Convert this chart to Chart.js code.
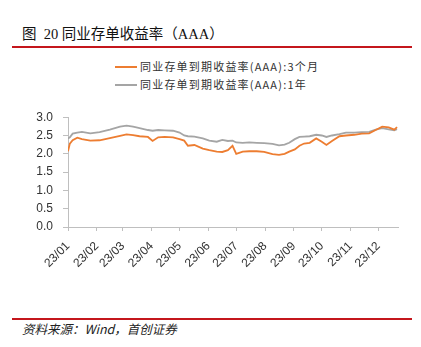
<!DOCTYPE html>
<html>
<head>
<meta charset="utf-8">
<script src="https://cdn.jsdelivr.net/npm/chart.js@4/dist/chart.umd.min.js"></script>
<style>
  body { margin: 0; background: #fff; }
  #wrap { position: relative; width: 421px; height: 347px; overflow: hidden; font-family: "Noto Sans CJK SC", "Liberation Sans", sans-serif; color: #222; }
  #title { position: absolute; left: 22px; top: 26px; font-family: "Liberation Serif", "Noto Sans CJK SC", serif; font-size: 14.5px; line-height: 16px; color: #111; }
  .rule { position: absolute; left: 12px; width: 400px; height: 2px; background: #c4161c; }
  .leg { position: absolute; left: 115px; font-size: 11px; line-height: 12px; letter-spacing: 1.2px; color: #333; white-space: nowrap; }
  .leg i { display: inline-block; width: 22px; height: 2px; vertical-align: middle; margin-right: 3px; position: relative; top: -1px; }
  #src { position: absolute; left: 22px; top: 322px; font-size: 12.5px; line-height: 14px; font-style: italic; color: #222; }
  #chart { position: absolute; left: 0; top: 100px; }
</style>
</head>
<body>
<div id="wrap">
  <div id="title">图&nbsp; 20 同业存单收益率（AAA）</div>
  <div class="rule" style="top:46px"></div>
  <div id="legend"></div>
  <canvas id="chart" width="410" height="170"></canvas>
  <div class="rule" style="top:318px"></div>
  <div id="src">资料来源：Wind，首创证券</div>
</div>
<script>
// days since 2023-01-01
const days = [0, 2, 5, 10, 15, 24, 34, 45, 56, 63, 70, 77, 86, 91, 97, 104, 113, 120, 125, 129,
  136, 145, 152, 160, 166, 172, 177, 181, 188, 195, 203, 211, 220, 227, 233, 238, 244, 249, 254, 260,
  267, 273, 278, 284, 292, 299, 308, 316, 324, 331, 338, 345, 351, 354];

const rate3m = [2.07, 2.28, 2.37, 2.44, 2.40, 2.36, 2.37, 2.43, 2.49, 2.53, 2.51, 2.48, 2.46, 2.35, 2.45, 2.46, 2.45, 2.40, 2.36, 2.22,
  2.24, 2.14, 2.10, 2.06, 2.05, 2.10, 2.22, 2.00, 2.06, 2.07, 2.07, 2.05, 1.99, 1.97, 2.00, 2.06, 2.12, 2.22, 2.28, 2.30,
  2.42, 2.33, 2.24, 2.35, 2.48, 2.50, 2.52, 2.55, 2.56, 2.65, 2.74, 2.72, 2.66, 2.73];

const rate1y = [2.42, 2.45, 2.55, 2.58, 2.60, 2.56, 2.59, 2.66, 2.74, 2.77, 2.74, 2.70, 2.65, 2.63, 2.65, 2.64, 2.63, 2.58, 2.50, 2.48,
  2.47, 2.42, 2.36, 2.33, 2.38, 2.35, 2.36, 2.31, 2.30, 2.31, 2.30, 2.29, 2.27, 2.23, 2.25, 2.30, 2.40, 2.46, 2.47, 2.48,
  2.52, 2.50, 2.46, 2.50, 2.54, 2.58, 2.58, 2.59, 2.60, 2.66, 2.70, 2.67, 2.64, 2.67];

const monthDays = [0, 31, 59, 90, 120, 151, 181, 212, 243, 273, 304, 334];
const monthLabels = ['23/01', '23/02', '23/03', '23/04', '23/05', '23/06', '23/07', '23/08', '23/09', '23/10', '23/11', '23/12'];

const series = [
  { label: '同业存单到期收益率(AAA):3个月', values: rate3m, color: '#ed7d31' },
  { label: '同业存单到期收益率(AAA):1年', values: rate1y, color: '#a5a5a5' },
];

// html legend
const legend = document.getElementById('legend');
series.forEach((s, i) => {
  const d = document.createElement('div');
  d.className = 'leg';
  d.style.top = (60 + i * 18) + 'px';
  d.innerHTML = '<i style="background:' + s.color + '"></i>' + s.label;
  legend.appendChild(d);
});

const tickFont = { family: 'Liberation Sans', size: 12 };

new Chart(document.getElementById('chart').getContext('2d'), {
  type: 'line',
  data: {
    datasets: series.map(s => ({
      label: s.label,
      data: days.map((d, i) => ({ x: d, y: s.values[i] })),
      borderColor: s.color,
      borderWidth: 1.8,
      pointRadius: 0,
      fill: false,
      tension: 0,
    })),
  },
  options: {
    responsive: false,
    animation: false,
    devicePixelRatio: 1,
    layout: { padding: { top: 13, right: 12, left: 0, bottom: 0 } },
    plugins: { legend: { display: false }, tooltip: { enabled: false } },
    scales: {
      x: {
        type: 'linear',
        min: 0,
        max: 355,
        afterBuildTicks: (scale) => { scale.ticks = monthDays.map(v => ({ value: v })); },
        afterFit: (scale) => { scale.height = 43; },
        ticks: {
          autoSkip: false,
          maxRotation: 45,
          minRotation: 45,
          padding: 8,
          color: '#333',
          font: tickFont,
          callback: (v) => monthLabels[monthDays.indexOf(v)],
        },
        grid: { drawOnChartArea: false, tickLength: 4, color: '#bfbfbf' },
        border: { color: '#bfbfbf' },
      },
      y: {
        min: 0,
        max: 3,
        afterFit: (scale) => { scale.width = 68; },
        ticks: {
          stepSize: 0.5,
          padding: 10,
          color: '#333',
          font: tickFont,
          callback: (v) => v.toFixed(1),
        },
        grid: { drawOnChartArea: false, tickLength: 5, color: '#bfbfbf' },
        border: { color: '#bfbfbf' },
      },
    },
  },
});
</script>
</body>
</html>
